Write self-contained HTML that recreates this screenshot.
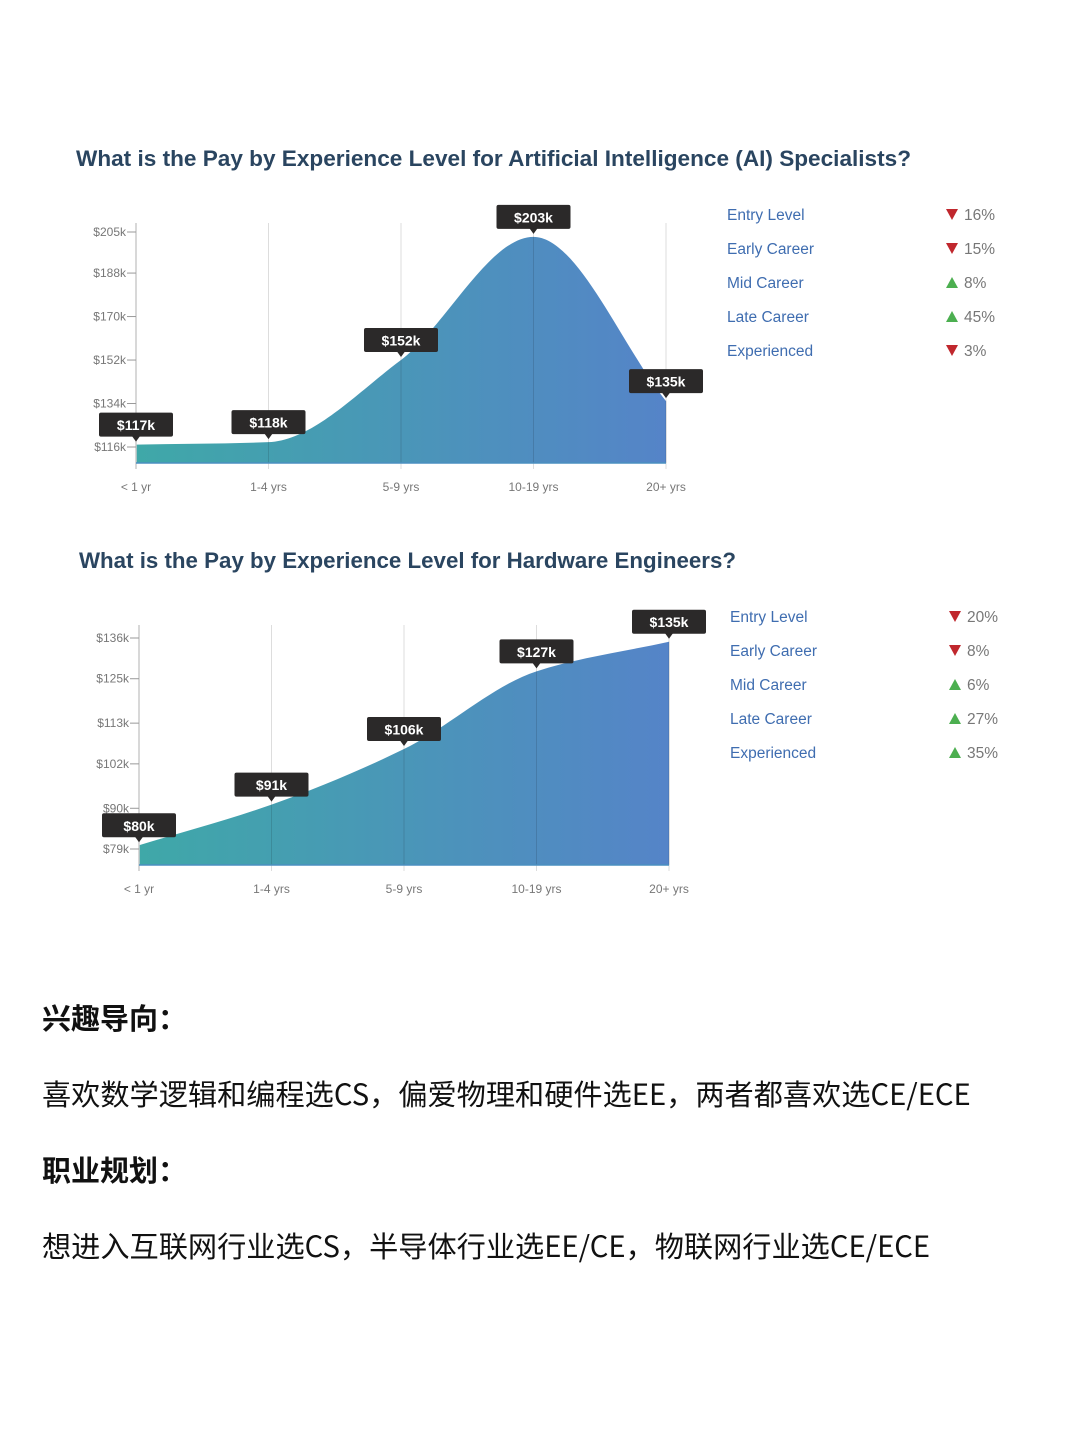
<!DOCTYPE html>
<html><head><meta charset="utf-8">
<style>
html,body{margin:0;padding:0;background:#fff;}
body{width:1079px;height:1442px;position:relative;overflow:hidden;font-family:"Liberation Sans",sans-serif;}
svg{position:absolute;left:0;top:0;}
.cn{position:absolute;left:42px;font-family:"Noto Sans CJK SC",sans-serif;color:#111;white-space:nowrap;}
.h{font-weight:bold;font-size:29px;}
.p{font-size:29.2px;}
</style></head>
<body>
<svg id="chart" width="1079" height="960">
<defs>
<linearGradient id="g1" x1="0" x2="1" y1="0" y2="0"><stop offset="0" stop-color="#3fa8a8"/><stop offset="1" stop-color="#5584c8"/></linearGradient>
</defs>
</svg>
<div class="cn h" style="top:996px">兴趣导向：</div>
<div class="cn p" style="top:1072px">喜欢数学逻辑和编程选CS，偏爱物理和硬件选EE，两者都喜欢选CE/ECE</div>
<div class="cn h" style="top:1148px">职业规划：</div>
<div class="cn p" style="top:1224px">想进入互联网行业选CS，半导体行业选EE/CE，物联网行业选CE/ECE</div>
<script>
const categories = ["< 1 yr","1-4 yrs","5-9 yrs","10-19 yrs","20+ yrs"];
const aiValues = [117,118,152,203,135];
const aiTicks = [205,188,170,152,134,116];
const hwValues = [80,91,106,127,135];
const hwTicks = [136,125,113,102,90,79];
const levels = ["Entry Level","Early Career","Mid Career","Late Career","Experienced"];
const aiChanges = [-16,-15,8,45,-3];
const hwChanges = [-20,-8,6,27,35];
const aiTitle = "What is the Pay by Experience Level for Artificial Intelligence (AI) Specialists?";
const hwTitle = "What is the Pay by Experience Level for Hardware Engineers?";

const svg = document.getElementById('chart');
const NS = 'http://www.w3.org/2000/svg';
function mk(tag, attrs, parent){
  const e = document.createElementNS(NS, tag);
  for (const k in attrs) e.setAttribute(k, attrs[k]);
  (parent||svg).appendChild(e);
  return e;
}
function monotone(pts){
  const n=pts.length, dx=[], m=[], t=[];
  for(let i=0;i<n-1;i++){dx.push(pts[i+1][0]-pts[i][0]); m.push((pts[i+1][1]-pts[i][1])/dx[i]);}
  t[0]=m[0]; t[n-1]=m[n-2];
  for(let i=1;i<n-1;i++){ t[i]=(m[i-1]*m[i]<=0)?0:3*(dx[i-1]+dx[i])/((2*dx[i]+dx[i-1])/m[i-1]+(dx[i]+2*dx[i-1])/m[i]); }
  let d='M'+pts[0][0]+','+pts[0][1];
  for(let i=0;i<n-1;i++){
    const h=dx[i]/3;
    d+=' C'+(pts[i][0]+h)+','+(pts[i][1]+t[i]*h)+' '+(pts[i+1][0]-h)+','+(pts[i+1][1]-t[i+1]*h)+' '+pts[i+1][0]+','+pts[i+1][1];
  }
  return d;
}
function drawChart(o){
  const g = mk('g',{});
  
  
  const t = mk('text',{x:o.titleX,y:o.titleY,'font-size':22.5,'font-weight':'bold',fill:'#2a4560',textLength:o.titleW,lengthAdjust:'spacingAndGlyphs'},g);
  t.textContent=o.title;
  
  
  const x = i => o.x0 + i*(o.x1-o.x0)/(o.cats.length-1);
  const y = v => o.yTop + (o.tickTop - v)*(o.yBot-o.yTop)/(o.tickTop-o.tickBot);
  o.cats.forEach((c,i)=>{
    const l = mk('line',{x1:x(i),x2:x(i),y1:o.gridTop,y2:o.base+6,stroke:'#ddd','stroke-width':1},g);
    
    
    const tl = mk('text',{x:x(i),y:o.base+28,'font-size':12,fill:'#777','text-anchor':'middle','font-family':'"Liberation Sans Narrow","Liberation Sans",sans-serif'},g);
    tl.textContent=c;
    
    
  });
  const pts = o.vals.map((v,i)=>[x(i),y(v)]);
  const line = monotone(pts);
  const a = mk('path',{d:line+' L'+x(o.vals.length-1)+','+o.base+' L'+x(0)+','+o.base+' Z',fill:'url(#g1)'},g);
  
  
  o.cats.forEach((c,i)=>{
    const l = mk('line',{x1:x(i),x2:x(i),y1:y(o.vals[i]),y2:o.base,stroke:'rgba(0,0,0,0.12)','stroke-width':1},g);
    
    
  });
  const ax = mk('line',{x1:o.x0,x2:o.x0,y1:o.gridTop,y2:o.base+6,stroke:'#ccc','stroke-width':1.5},g);
  
  
  const bx = mk('line',{x1:o.x0,x2:o.x1,y1:o.base,y2:o.base,stroke:'#4a8fc0','stroke-width':1.5},g);
  
  
  o.ticks.forEach(v=>{
    const tk = mk('line',{x1:o.x0-9,x2:o.x0,y1:y(v),y2:y(v),stroke:'#999','stroke-width':1},g);
    
    
    const tl = mk('text',{x:o.x0-10,y:y(v)+4,'font-size':12,fill:'#777','text-anchor':'end','font-family':'"Liberation Sans Narrow","Liberation Sans",sans-serif'},g);
    tl.textContent='$'+v+'k';
    
    
  });
  o.vals.forEach((v,i)=>{
    const cx = x(i), cy = y(v);
    const tg = mk('g',{},g);
    
    
    mk('rect',{x:cx-37,y:cy-32,width:74,height:24,rx:2,fill:'#2b2929'},tg);
    mk('path',{d:'M'+(cx-4)+','+(cy-8.5)+' L'+(cx+4)+','+(cy-8.5)+' L'+cx+','+(cy-3)+' Z',fill:'#2b2929'},tg);
    const tx = mk('text',{x:cx,y:cy-14.5,'font-size':14,fill:'#fff','text-anchor':'middle','font-weight':'bold'},tg);
    tx.textContent='$'+v+'k';
  });
  o.levels.forEach((lv,i)=>{
    const ly = o.legY + i*34;
    const lt = mk('text',{x:o.legX,y:ly,'font-size':15.5,fill:'#3f6db0'},g);
    lt.textContent=lv;
    
    
    const ch = o.changes[i], up = ch>0, ax2=o.legX+225;
    const tri = mk('path',{d: up ? 'M'+(ax2-6)+','+(ly)+' L'+(ax2+6)+','+ly+' L'+ax2+','+(ly-11)+' Z' : 'M'+(ax2-6)+','+(ly-11)+' L'+(ax2+6)+','+(ly-11)+' L'+ax2+','+ly+' Z', fill: up?'#4caf50':'#c0272d'},g);
    
    
    const pt = mk('text',{x:ax2+12,y:ly,'font-size':15.5,fill:'#777'},g);
    pt.textContent=Math.abs(ch)+'%';
    
    
  });
}
drawChart({name:'ai-chart',title:aiTitle,titleX:76,titleY:166,titleW:835,cats:categories,vals:aiValues,ticks:aiTicks,
  x0:136,x1:666,yTop:232,yBot:447,tickTop:205,tickBot:116,base:463,gridTop:223,levels:levels,changes:aiChanges,legX:727,legY:220});
drawChart({name:'hw-chart',title:hwTitle,titleX:79,titleY:568,titleW:657,cats:categories,vals:hwValues,ticks:hwTicks,
  x0:139,x1:669,yTop:638,yBot:849,tickTop:136,tickBot:79,base:865,gridTop:625,levels:levels,changes:hwChanges,legX:730,legY:622});
</script>
</body></html>
